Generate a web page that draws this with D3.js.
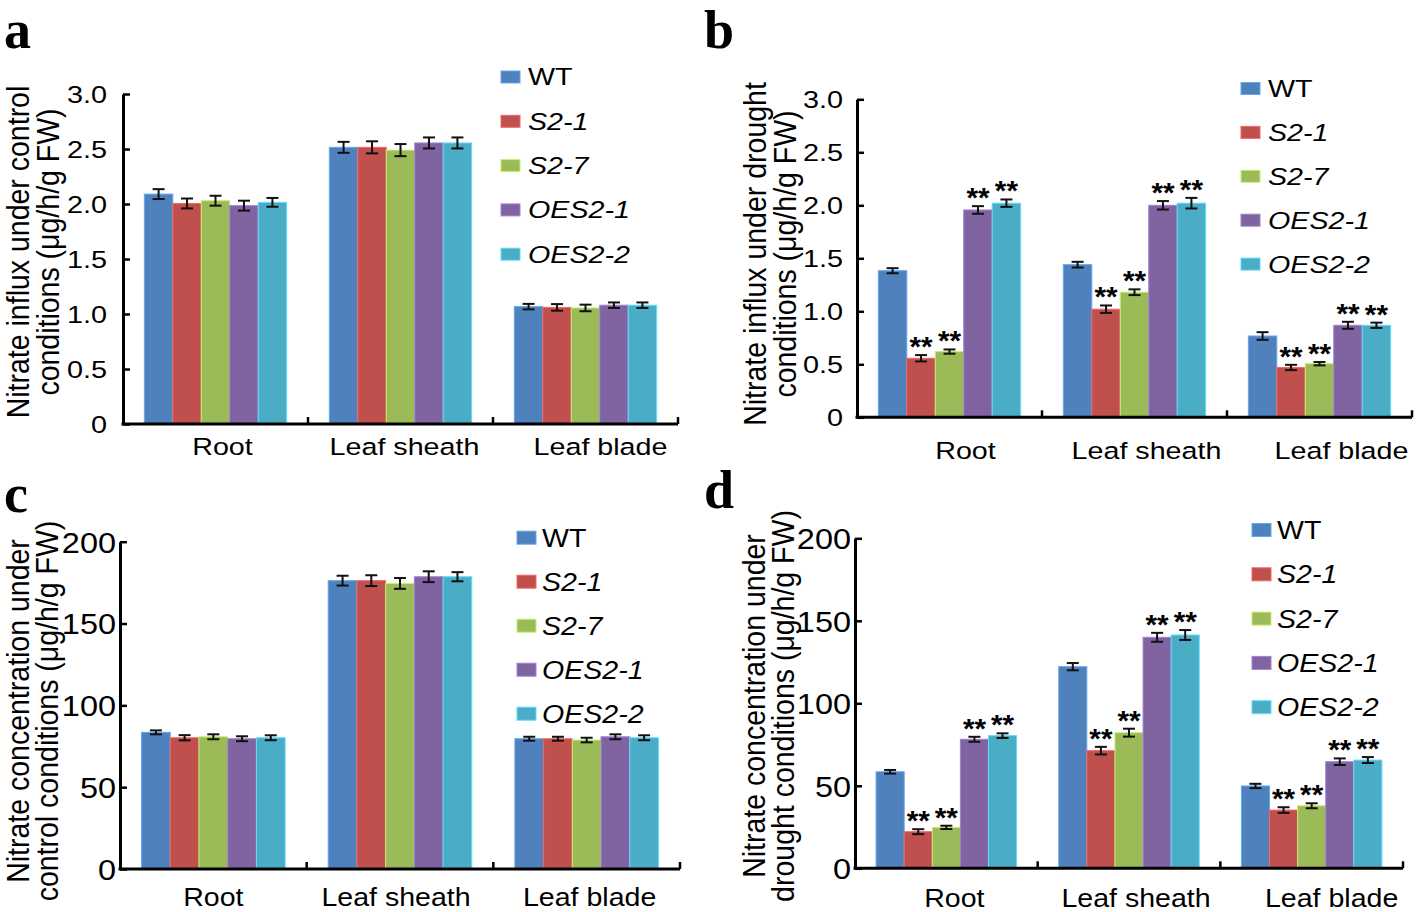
<!DOCTYPE html>
<html>
<head>
<meta charset="utf-8">
<script src="https://cdn.jsdelivr.net/npm/d3@7"></script>
<style>
  html, body { margin: 0; padding: 0; background: #ffffff; }
  svg { display: block; }
</style>
</head>
<body>
<svg id="chart" width="1418" height="912"></svg>
<script>
// ---------------- DATA ----------------
const categories = ["Root", "Leaf sheath", "Leaf blade"];
const seriesNames = ["WT", "S2-1", "S2-7", "OES2-1", "OES2-2"];
const seriesItalic = [false, true, true, true, true];
const seriesColors = ["#4F81BD", "#C0504D", "#9BBB59", "#8064A2", "#4BACC6"];

const influxTicks = [0, 0.5, 1.0, 1.5, 2.0, 2.5, 3.0];
const concTicks = [0, 50, 100, 150, 200];

// rows = series (WT, S2-1, S2-7, OES2-1, OES2-2), columns = categories
const aValues = [[2.09, 2.515, 1.067], [2.005, 2.515, 1.06], [2.03, 2.49, 1.055], [1.985, 2.555, 1.08], [2.015, 2.555, 1.08]];
const aErrors = [[0.045, 0.05, 0.025], [0.045, 0.055, 0.03], [0.045, 0.055, 0.03], [0.045, 0.05, 0.025], [0.04, 0.05, 0.025]];

const bValues = [[1.383, 1.44, 0.767], [0.557, 1.02, 0.47], [0.62, 1.18, 0.506], [1.956, 2.0, 0.868], [2.02, 2.02, 0.868]];
const bErrors = [[0.024, 0.027, 0.036], [0.03, 0.035, 0.025], [0.02, 0.027, 0.016], [0.036, 0.04, 0.033], [0.035, 0.05, 0.025]];
const bStars = [[0, 0, 0], [1, 1, 1], [1, 1, 1], [1, 1, 1], [1, 1, 1]];

const cValues = [[83.5, 176.2, 79.6], [80.2, 176.2, 79.6], [80.8, 174.5, 78.8], [79.6, 178.6, 80.8], [80.2, 178.6, 80.2]];
const cErrors = [[1.2, 3.0, 1.2], [1.6, 3.3, 1.2], [1.5, 3.3, 1.4], [1.5, 3.3, 1.5], [1.5, 2.8, 1.5]];

const dValues = [[58.5, 122.2, 49.9], [22.2, 71.3, 35.3], [24.8, 82.2, 37.9], [78.2, 140.0, 64.6], [80.4, 141.4, 65.6]];
const dErrors = [[1.1, 2.2, 1.3], [1.5, 2.3, 1.7], [1.0, 2.4, 1.5], [1.5, 2.7, 2.0], [1.4, 3.0, 1.8]];
const dStars = [[0, 0, 0], [1, 1, 1], [1, 1, 1], [1, 1, 1], [1, 1, 1]];

// ---------------- PANELS ----------------
const SANS = "'Liberation Sans', Arial, sans-serif";
const SERIF = "'Liberation Serif', 'Times New Roman', serif";

const panels = [
  { letter: "a", lx: 4, ly: 48, values: aValues, errors: aErrors, stars: null,
    x0: 123, x1: 678, yTop: 94, yBot: 424, yMax: 3, ticks: influxTicks, fmt: v => v === 0 ? "0" : d3.format(".1f")(v),
    tickSize: 24, tickSX: 1.2, tickPad: 16,
    catSize: 23.5, catSX: 1.22, catBase: 455, catOff: [7, 4, 15],
    legX: 501, legTX: 528, legY0: 77, legStep: 44.3, legSize: 23.5, legSX: 1.22, sqW: 19, sqH: 12,
    title: ["Nitrate influx under control", "conditions (\u03bcg/h/g FW)"], tX: [18, 48], tY: 252, tSize: 28.5 },
  { letter: "b", lx: 704, ly: 48, values: bValues, errors: bErrors, stars: bStars,
    x0: 857, x1: 1412, yTop: 99.3, yBot: 417.3, yMax: 3, ticks: influxTicks, fmt: v => v === 0 ? "0" : d3.format(".1f")(v),
    tickSize: 24, tickSX: 1.2, tickPad: 14,
    catSize: 23.5, catSX: 1.22, catBase: 459, catOff: [16, 12, 22],
    legX: 1241, legTX: 1268, legY0: 88.5, legStep: 43.9, legSize: 23.5, legSX: 1.22, sqW: 19, sqH: 12,
    title: ["Nitrate influx under drought", "conditions (\u03bcg/h/g FW)"], tX: [755, 785], tY: 254, tSize: 28.5 },
  { letter: "c", lx: 4, ly: 512, values: cValues, errors: cErrors, stars: null,
    x0: 120, x1: 680, yTop: 541.7, yBot: 869, yMax: 200, ticks: concTicks, fmt: v => String(v),
    tickSize: 29, tickSX: 1.12, tickPad: 4,
    catSize: 25.5, catSX: 1.12, catBase: 906, catOff: [0, -4, 3],
    legX: 517, legTX: 542, legY0: 537.7, legStep: 44, legSize: 25.5, legSX: 1.12, sqW: 19, sqH: 13,
    title: ["Nitrate concentration under", "control conditions (\u03bcg/h/g FW)"], tX: [18, 47], tY: 711, tSize: 28.5 },
  { letter: "d", lx: 704, ly: 508, values: dValues, errors: dErrors, stars: dStars,
    x0: 855, x1: 1403, yTop: 538.3, yBot: 868.3, yMax: 200, ticks: concTicks, fmt: v => String(v),
    tickSize: 29, tickSX: 1.12, tickPad: 4,
    catSize: 25.5, catSX: 1.12, catBase: 907, catOff: [8, 7, 20],
    legX: 1252, legTX: 1277, legY0: 530, legStep: 44.3, legSize: 25.5, legSX: 1.12, sqW: 19, sqH: 13,
    title: ["Nitrate concentration under", "drought conditions (\u03bcg/h/g FW)"], tX: [754, 783], tY: 706, tSize: 28.5 }
];

const svg = d3.select("#chart");
svg.append("rect").attr("width", 1418).attr("height", 912).attr("fill", "#fff");

panels.forEach(p => {
  const g = svg.append("g").style("font-family", SANS);

  const x = d3.scaleBand().domain(categories).range([p.x0, p.x1]).paddingInner(0).paddingOuter(0);
  const xs = d3.scaleBand().domain(seriesNames).range([0, x.bandwidth()]).paddingInner(0).paddingOuter(0.75);
  const y = d3.scaleLinear().domain([0, p.yMax]).range([p.yBot, p.yTop]);

  // bars
  seriesNames.forEach((s, si) => {
    const col = seriesColors[si];
    const rows = categories.map((c, ci) => ({ c, v: p.values[si][ci], e: p.errors[si][ci], star: p.stars ? p.stars[si][ci] : 0 }));
    g.selectAll(null).data(rows).enter().append("rect")
      .attr("x", d => x(d.c) + xs(s))
      .attr("y", d => y(d.v))
      .attr("width", xs.bandwidth())
      .attr("height", d => y(0) - y(d.v))
      .attr("fill", col)
      .attr("stroke", d3.color(col).brighter(0.7))
      .attr("stroke-width", 1);

    // error bars
    const cx = d => x(d.c) + xs(s) + xs.bandwidth() / 2;
    const eg = g.append("g").attr("stroke", "#111").attr("stroke-width", 2);
    rows.forEach(d => {
      eg.append("line").attr("x1", cx(d)).attr("x2", cx(d)).attr("y1", y(d.v - d.e)).attr("y2", y(d.v + d.e));
      eg.append("line").attr("x1", cx(d) - 6).attr("x2", cx(d) + 6).attr("y1", y(d.v - d.e)).attr("y2", y(d.v - d.e));
      eg.append("line").attr("x1", cx(d) - 6).attr("x2", cx(d) + 6).attr("y1", y(d.v + d.e)).attr("y2", y(d.v + d.e));
      if (d.star) {
        g.append("text")
          .attr("transform", `translate(${cx(d)},${y(d.v + d.e) + 1}) scale(1.1,1)`)
          .attr("text-anchor", "middle")
          .style("font-size", "27px").style("font-weight", "bold")
          .attr("fill", "#000")
          .text("**");
      }
    });
  });

  // y axis (inward ticks)
  const yAxis = d3.axisLeft(y).tickValues(p.ticks).tickFormat(p.fmt).tickSizeInner(-7).tickSizeOuter(0).tickPadding(0);
  const ya = g.append("g").attr("transform", `translate(${p.x0},0)`).call(yAxis);
  ya.attr("font-family", null).attr("font-size", null);
  ya.select(".domain").attr("stroke", "#000").attr("stroke-width", 3);
  ya.selectAll(".tick line").attr("stroke", "#000").attr("stroke-width", 2.5);
  ya.selectAll(".tick text")
    .attr("x", null).attr("dy", null)
    .attr("transform", `translate(${-p.tickPad},${p.tickSize * 0.36}) scale(${p.tickSX},1)`)
    .attr("text-anchor", "end")
    .style("font-size", p.tickSize + "px")
    .style("font-family", SANS)
    .attr("fill", "#000");

  // x axis line and boundary ticks (inward)
  g.append("line").attr("x1", p.x0 - 1.5).attr("x2", p.x1).attr("y1", y(0)).attr("y2", y(0))
    .attr("stroke", "#000").attr("stroke-width", 3);
  categories.forEach(c => {
    const bx = x(c) + x.bandwidth();
    g.append("line").attr("x1", bx).attr("x2", bx).attr("y1", y(0)).attr("y2", y(0) - 7)
      .attr("stroke", "#000").attr("stroke-width", 2.5);
  });
  categories.forEach((c, ci) => {
    g.append("text")
      .attr("transform", `translate(${x(c) + x.bandwidth() / 2 + p.catOff[ci]},${p.catBase}) scale(${p.catSX},1)`)
      .attr("text-anchor", "middle")
      .style("font-size", p.catSize + "px")
      .attr("fill", "#000")
      .text(c);
  });

  // legend
  seriesNames.forEach((s, si) => {
    const cy = p.legY0 + si * p.legStep;
    g.append("rect").attr("x", p.legX).attr("y", cy - p.sqH / 2).attr("width", p.sqW).attr("height", p.sqH)
      .attr("fill", seriesColors[si]).attr("stroke", d3.color(seriesColors[si]).brighter(0.7)).attr("stroke-width", 1);
    g.append("text")
      .attr("transform", `translate(${p.legTX},${cy + p.legSize * 0.36}) scale(${p.legSX},1)`)
      .style("font-size", p.legSize + "px")
      .style("font-style", seriesItalic[si] ? "italic" : "normal")
      .attr("fill", "#000")
      .text(s);
  });

  // y title (glyphs slightly widened across the line, like the reference)
  p.title.forEach((t, i) => {
    g.append("text")
      .attr("transform", `translate(${p.tX[i]},${p.tY}) rotate(-90) scale(1,1.08)`)
      .attr("text-anchor", "middle")
      .attr("dominant-baseline", "central")
      .style("font-size", p.tSize + "px")
      .attr("fill", "#000")
      .text(t);
  });

  // panel letter
  g.append("text")
    .attr("x", p.lx).attr("y", p.ly)
    .style("font-family", SERIF)
    .style("font-weight", "bold")
    .style("font-size", "54px")
    .attr("fill", "#000")
    .text(p.letter);
});
</script>
</body>
</html>
